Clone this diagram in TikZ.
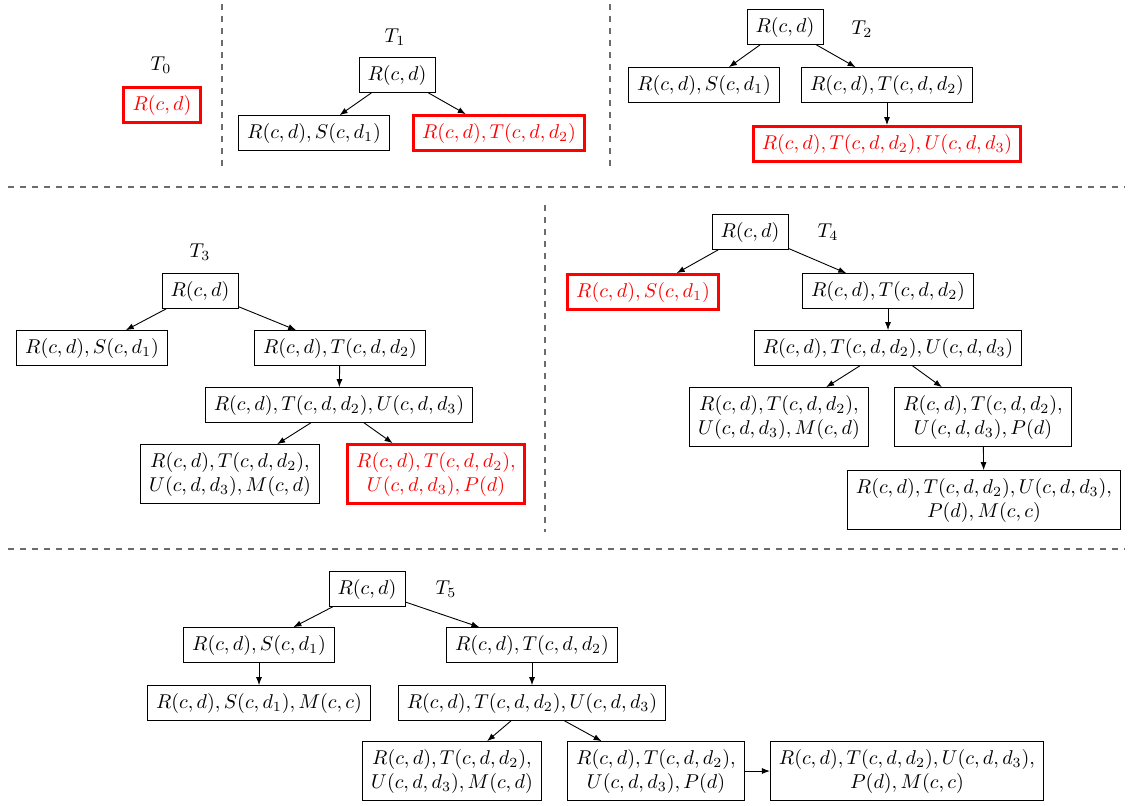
\documentclass[tikz,border=0pt]{standalone}
\usetikzlibrary{arrows.meta}
\begin{document}
\begin{tikzpicture}[x=0.5pt,y=-0.5pt,
  box/.style={draw,rectangle,inner xsep=4.3pt,inner ysep=3.7pt,align=center,line width=0.45pt},
  hot/.style={box,draw=red,text=red,line width=1.5pt},
  lab/.style={inner sep=1pt},
  edge/.style={-{Latex[length=4pt,width=3pt]},line width=0.45pt},
  sep/.style={dashed,draw=gray!85!black,line width=0.8pt}]
\useasboundingbox (0,0) rectangle (1130,805);
% separators
\draw[sep] (222,4) -- (222,170);
\draw[sep] (610,4) -- (610,170);
\draw[sep] (8,187) -- (1125,187);
\draw[sep] (545,205) -- (545,532);
\draw[sep] (8,549) -- (1125,549);
% T0
\node[lab] (t0) at (161,65) {$T_0$};
\node[hot] (a0) at (162,105) {$R(c,d)$};
% T1
\node[lab] (t1) at (395,37) {$T_1$};
\node[box] (b1) at (397,75) {$R(c,d)$};
\node[box] (b2) at (314,133) {$R(c,d),S(c,d_1)$};
\node[hot] (b3) at (499,133) {$R(c,d),T(c,d,d_2)$};
\draw[edge] (b1) -- (b2);
\draw[edge] (b1) -- (b3);
% T2
\node[lab] (t2) at (862,29) {$T_2$};
\node[box] (c1) at (785,27) {$R(c,d)$};
\node[box] (c2) at (704,85) {$R(c,d),S(c,d_1)$};
\node[box] (c3) at (887,85) {$R(c,d),T(c,d,d_2)$};
\node[hot] (c4) at (887,144) {$R(c,d),T(c,d,d_2),U(c,d,d_3)$};
\draw[edge] (c1) -- (c2);
\draw[edge] (c1) -- (c3);
\draw[edge] (c3) -- (c4);
% T3
\node[lab] (t3) at (200,252) {$T_3$};
\node[box] (d1) at (200,291) {$R(c,d)$};
\node[box] (d2) at (92,348) {$R(c,d),S(c,d_1)$};
\node[box] (d3) at (340,348) {$R(c,d),T(c,d,d_2)$};
\node[box] (d4) at (339,405) {$R(c,d),T(c,d,d_2),U(c,d,d_3)$};
\node[box] (d5) at (230,474) {$R(c,d),T(c,d,d_2),$\\$U(c,d,d_3),M(c,d)$};
\node[hot] (d6) at (436,474) {$R(c,d),T(c,d,d_2),$\\$U(c,d,d_3),P(d)$};
\draw[edge] (d1) -- (d2);
\draw[edge] (d1) -- (d3);
\draw[edge] (d3) -- (d4);
\draw[edge] (d4) -- (d5);
\draw[edge] (d4) -- (d6);
% T4
\node[lab] (t4) at (828,232) {$T_4$};
\node[box] (e1) at (750,232) {$R(c,d)$};
\node[hot] (e2) at (643,292) {$R(c,d),S(c,d_1)$};
\node[box] (e3) at (888,291) {$R(c,d),T(c,d,d_2)$};
\node[box] (e4) at (888,348) {$R(c,d),T(c,d,d_2),U(c,d,d_3)$};
\node[box] (e5) at (779,417) {$R(c,d),T(c,d,d_2),$\\$U(c,d,d_3),M(c,d)$};
\node[box] (e6) at (983,417) {$R(c,d),T(c,d,d_2),$\\$U(c,d,d_3),P(d)$};
\node[box] (e7) at (984,500) {$R(c,d),T(c,d,d_2),U(c,d,d_3),$\\$P(d),M(c,c)$};
\draw[edge] (e1) -- (e2);
\draw[edge] (e1) -- (e3);
\draw[edge] (e3) -- (e4);
\draw[edge] (e4) -- (e5);
\draw[edge] (e4) -- (e6);
\draw[edge] (e6) -- (e7);
% T5
\node[lab] (t5) at (446,589) {$T_5$};
\node[box] (f1) at (367,589) {$R(c,d)$};
\node[box] (f2) at (259,645) {$R(c,d),S(c,d_1)$};
\node[box] (f3) at (532,645) {$R(c,d),T(c,d,d_2)$};
\node[box] (f4) at (259,703) {$R(c,d),S(c,d_1),M(c,c)$};
\node[box] (f5) at (532,703) {$R(c,d),T(c,d,d_2),U(c,d,d_3)$};
\node[box] (f6) at (452,771) {$R(c,d),T(c,d,d_2),$\\$U(c,d,d_3),M(c,d)$};
\node[box] (f7) at (656,771) {$R(c,d),T(c,d,d_2),$\\$U(c,d,d_3),P(d)$};
\node[box] (f8) at (907,771) {$R(c,d),T(c,d,d_2),U(c,d,d_3),$\\$P(d),M(c,c)$};
\draw[edge] (f1) -- (f2);
\draw[edge] (f1) -- (f3);
\draw[edge] (f2) -- (f4);
\draw[edge] (f3) -- (f5);
\draw[edge] (f5) -- (f6);
\draw[edge] (f5) -- (f7);
\draw[edge] (f7) -- (f8);
\end{tikzpicture}
\end{document}
